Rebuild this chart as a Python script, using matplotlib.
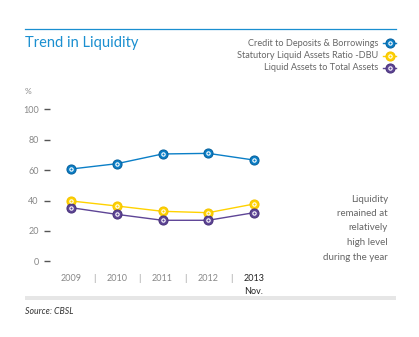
import numpy as np
import matplotlib.pyplot as plt
from matplotlib.patches import Rectangle
from matplotlib.lines import Line2D

plt.rcParams['font.family'] = ['Lato', 'DejaVu Sans']

years = ['2009', '2010', '2011', '2012', '2013']
credit = [60.7, 64.2, 70.6, 71.0, 66.6]
slar = [39.7, 36.4, 32.9, 32.0, 37.7]
liquid = [35.3, 30.9, 27.0, 27.0, 32.0]

names = ['Credit to Deposits & Borrowings', 'Statutory Liquid Assets Ratio -DBU',
         'Liquid Assets to Total Assets']
colors = ['#0b7fc7', '#ffd200', '#5e4596']
edges = ['#0863a0', '#f5c400', '#4b357d']

W, H = 419, 337
fig = plt.figure(figsize=(W / 100, H / 100), dpi=100)


def fx(px):
    return px / W


def fy(py):
    return 1 - py / H


# header rule and title
fig.add_artist(Line2D([fx(25), fx(396)], [fy(29), fy(29)], color='#1a8fd0', lw=0.9))
fig.text(fx(25), fy(43), 'Trend in Liquidity', color='#1a8fd0', fontsize=10.5,
         va='center', ha='left')

# legend
for i, (n, c, e) in enumerate(zip(names, colors, edges)):
    y = fy(43 + i * 12.5)
    fig.text(fx(378), y, n, fontsize=6.6, color='#666666', ha='right', va='center')
    fig.add_artist(Line2D([fx(383), fx(396)], [y, y], color=c, lw=1))
    fig.add_artist(Line2D([fx(389.5)], [y], marker='o', ms=6.5, mfc=c, mec=e, mew=0.8))
    fig.add_artist(Line2D([fx(389.5)], [y], marker='o', ms=2.4, mfc='none', mec='white', mew=0.8))

# plot area
ax = fig.add_axes([fx(50), fy(265), fx(280) - fx(50), fy(105) - fy(265)])
ax.set_xlim(-0.459, 4.568)
ax.set_ylim(-2.4, 102.8)
x = np.arange(len(years))
for vals, c, e in zip([credit, slar, liquid], colors, edges):
    ax.plot(x, vals, color=c, lw=1, marker='o', ms=6.5, mfc=c, mec=e, mew=0.8, zorder=3)
    ax.plot(x, vals, ls='none', marker='o', ms=2.4, mfc='none', mec='white', mew=0.8, zorder=4)

for s in ax.spines.values():
    s.set_visible(False)
ax.set_yticks([0, 20, 40, 60, 80, 100])
ax.tick_params(axis='y', length=4, width=1, color='#555555', pad=4,
               labelsize=6.5, labelcolor='#888888')
ax.set_xticks([])
ax.patch.set_alpha(0)

for i, yr in enumerate(years):
    col = '#222222' if i == 4 else '#888888'
    ax.text(i, -11.5, yr, ha='center', va='center', fontsize=6.5, color=col, clip_on=False)
    if i < 4:
        ax.text(i + 0.5, -11.5, '|', ha='center', va='center', fontsize=7, color='#999999',
                clip_on=False)
ax.text(4, -20, 'Nov.', ha='center', va='center', fontsize=6.5, color='#222222', clip_on=False)

fig.text(fx(25), fy(92), '%', fontsize=6, color='#888888', ha='left', va='center')

# side note
note = ['Liquidity', 'remained at', 'relatively', 'high level', 'during the year']
for i, t in enumerate(note):
    fig.text(fx(388), fy(199 + i * 14.5), t, fontsize=7, color='#666666', ha='right', va='center')

# bottom bar and source
fig.add_artist(Rectangle((fx(25), fy(300)), fx(396) - fx(25), fy(296) - fy(300),
                         color='#e6e6e6', lw=0))
fig.text(fx(25), fy(311), 'Source: CBSL', fontsize=6.3, style='italic', color='#333333',
         ha='left', va='center')

fig.savefig('out.png', dpi=100)
